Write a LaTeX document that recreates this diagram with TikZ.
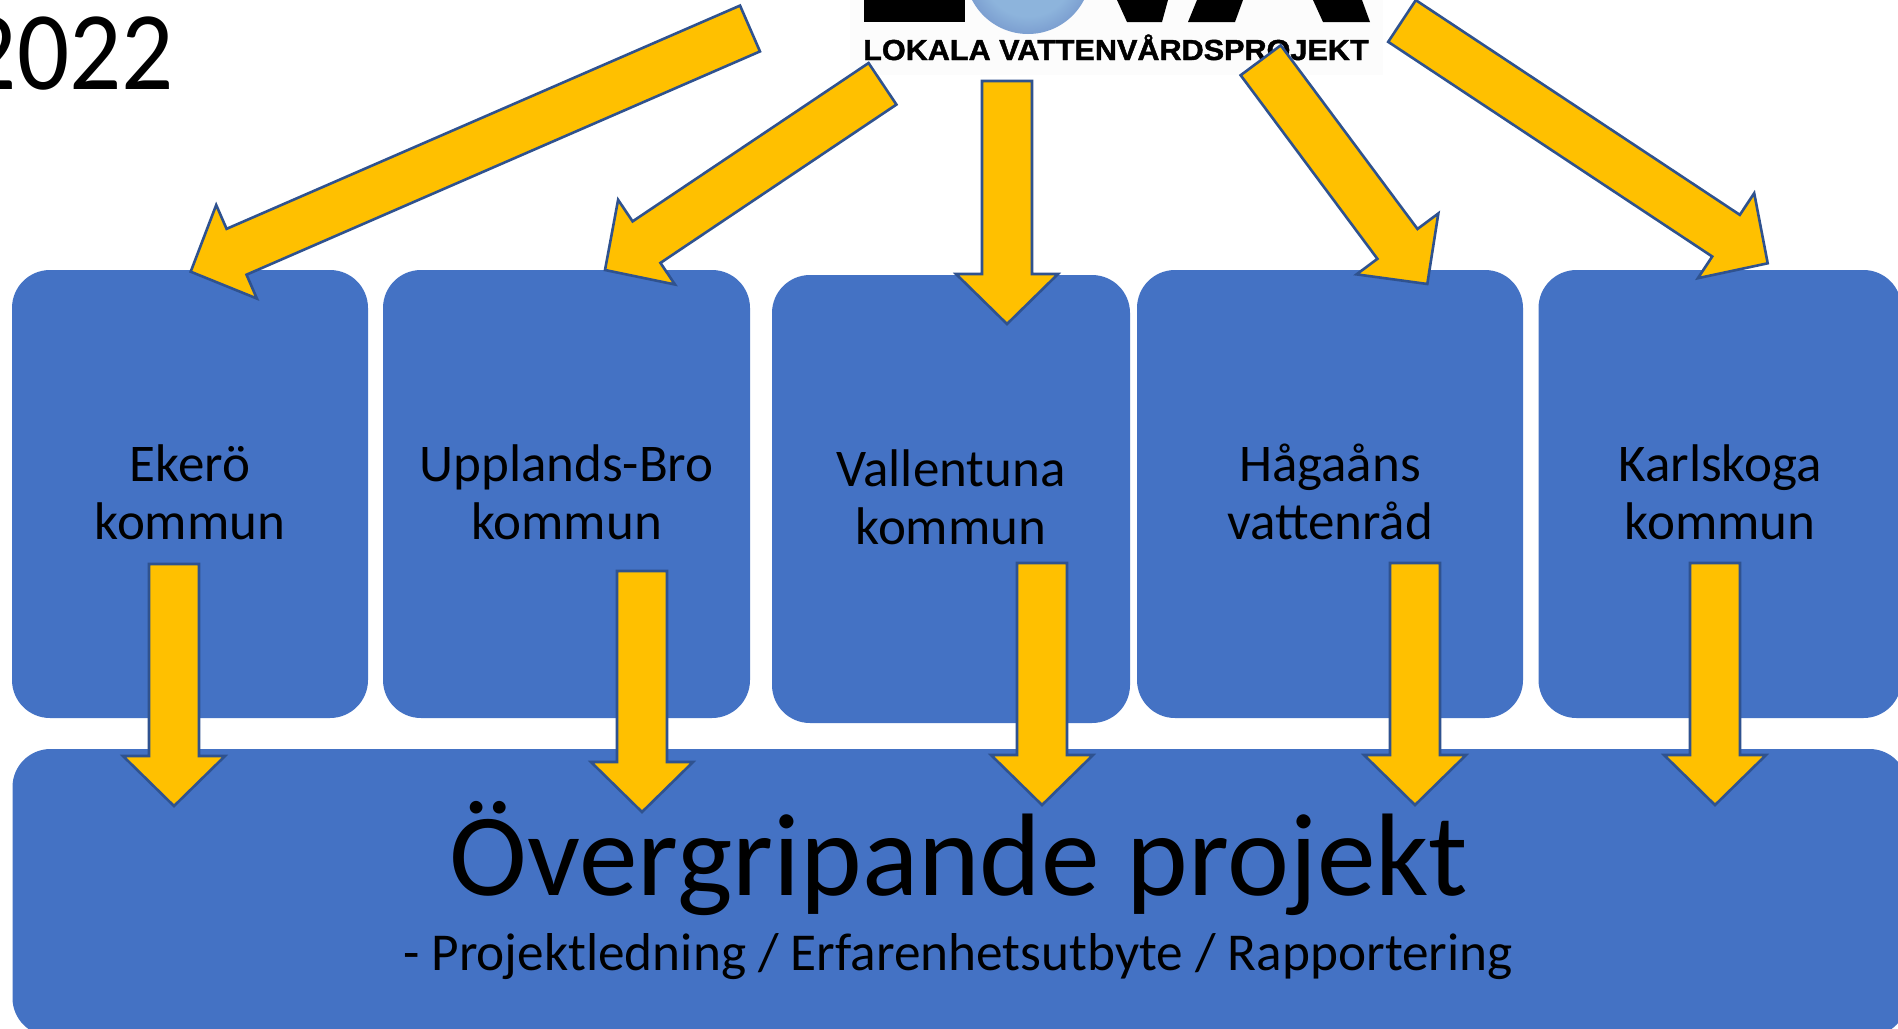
\documentclass[tikz,border=0pt]{standalone}
\usepackage{fontspec}
\setmainfont{Carlito}
\newfontfamily\logofont[BoldFeatures={FakeBold=1.4}]{Liberation Sans}
\usetikzlibrary{calc}
\definecolor{boxblue}{HTML}{4472C4}
\definecolor{arrowfill}{HTML}{FFC000}
\definecolor{arrowline}{HTML}{2F528F}
\definecolor{ballin}{HTML}{8DB4DC}
\definecolor{ballmid}{HTML}{7090C8}
\definecolor{ballout}{HTML}{4A68B0}
\pgfdeclareradialshading{logoball}{\pgfpoint{0bp}{0bp}}{color(0bp)=(ballin); color(18bp)=(ballin); color(30bp)=(ballmid); color(40bp)=(ballout); color(100bp)=(ballout)}
\tikzset{
  box/.style={draw=none,fill=boxblue,rectangle,rounded corners=38pt,inner sep=0pt,align=center,text=black,
    font=\fontsize{53}{58}\selectfont},
  blockarrow/.style={draw=arrowline,fill=arrowfill,line width=2.6pt,line join=miter},
  logoblack/.style={fill=black,draw=none},
}
\newcommand\blockarrow[2]{%
  \coordinate (#1n) at ($(#2)!50pt!(#1)$);
  \draw[blockarrow] ($(#1)!25pt!90:(#2)$) -- ($(#1n)!25pt!90:(#2)$) -- ($(#1n)!51pt!90:(#2)$) -- (#2)
    -- ($(#1n)!51pt!-90:(#2)$) -- ($(#1n)!25pt!-90:(#2)$) -- ($(#1)!25pt!-90:(#2)$) -- cycle;
}
\begin{document}
\begin{tikzpicture}[x=1pt,y=-1pt]
\clip (0,0) rectangle (1898,1028);
\useasboundingbox (0,0) rectangle (1898,1028);
\fill[white] (0,0) rectangle (1898,1028);
% title year
\node[anchor=base east,inner sep=0pt,xscale=0.92,font=\fontsize{112}{130}\selectfont] (year) at (174,89) {2022};
% logo
\fill[black!1] (850,0) rectangle (1383,75);
\fill[logoblack] (864,0) rectangle (965,22);
\shade[shading=logoball] (1028,-29) circle (63);
\fill[logoblack] (1117,0) -- (1127,22) -- (1162,22) -- (1168,0) -- cycle;
\fill[logoblack] (1188,22) -- (1197,0) -- (1243,0) -- (1235,22) -- cycle;
\fill[logoblack] (1313,0) -- (1323,22) -- (1370,22) -- (1362,0) -- cycle;
\node[anchor=base west,inner sep=0pt,xscale=1.055,font=\logofont\bfseries\fontsize{29}{32}\selectfont] (logotext) at (863,60) {LOKALA VATTENVÅRDSPROJEKT};
% boxes
\node[box,minimum width=356pt,minimum height=448pt] (ekero) at (190,494) {Ekerö\\kommun\\[-53.2pt]};
\node[box,minimum width=367pt,minimum height=448pt] (upplands) at (566.5,494) {Upplands-Bro\\kommun\\[-53.2pt]};
\node[box,minimum width=358pt,minimum height=448pt] (vallentuna) at (951,499) {Vallentuna\\kommun\\[-53.2pt]};
\node[box,minimum width=386pt,minimum height=448pt] (hagaan) at (1330,494) {Hågaåns\\vattenråd\\[-53.2pt]};
\node[box,minimum width=363pt,minimum height=448pt] (karlskoga) at (1720,494) {Karlskoga\\kommun\\[-53.2pt]};
\node[box,minimum width=1895pt,minimum height=287pt] (over) at (960,892.5) {};
\node[anchor=base,inner sep=0pt,font=\fontsize{117.4}{130}\selectfont] (overtitle) at (958.7,895) {Övergripande projekt};
\node[anchor=base,inner sep=0pt,font=\fontsize{53.3}{58}\selectfont] (oversub) at (958,970.5) {- Projektledning / Erfarenhetsutbyte / Rapportering};
% top arrows
\coordinate (t1) at (750,28.5);   \coordinate (h1) at (190.7,271.7);
\coordinate (t2) at (882.5,83.8); \coordinate (h2) at (605,270);
\coordinate (t3) at (1007,81);    \coordinate (h3) at (1007,324);
\coordinate (t4) at (1260.7,60.3);\coordinate (h4) at (1427.3,284);
\coordinate (t5) at (1402,21);    \coordinate (h5) at (1767.7,263.3);
\blockarrow{t1}{h1}
\blockarrow{t2}{h2}
\blockarrow{t3}{h3}
\blockarrow{t4}{h4}
\blockarrow{t5}{h5}
% bottom arrows
\coordinate (d1) at (174,564);  \coordinate (e1) at (174,806);
\coordinate (d2) at (642,571);  \coordinate (e2) at (642,812);
\coordinate (d3) at (1042,563); \coordinate (e3) at (1042,805);
\coordinate (d4) at (1415,563); \coordinate (e4) at (1415,805);
\coordinate (d5) at (1715,563); \coordinate (e5) at (1715,805);
\blockarrow{d1}{e1}
\blockarrow{d2}{e2}
\blockarrow{d3}{e3}
\blockarrow{d4}{e4}
\blockarrow{d5}{e5}
\end{tikzpicture}
\end{document}
